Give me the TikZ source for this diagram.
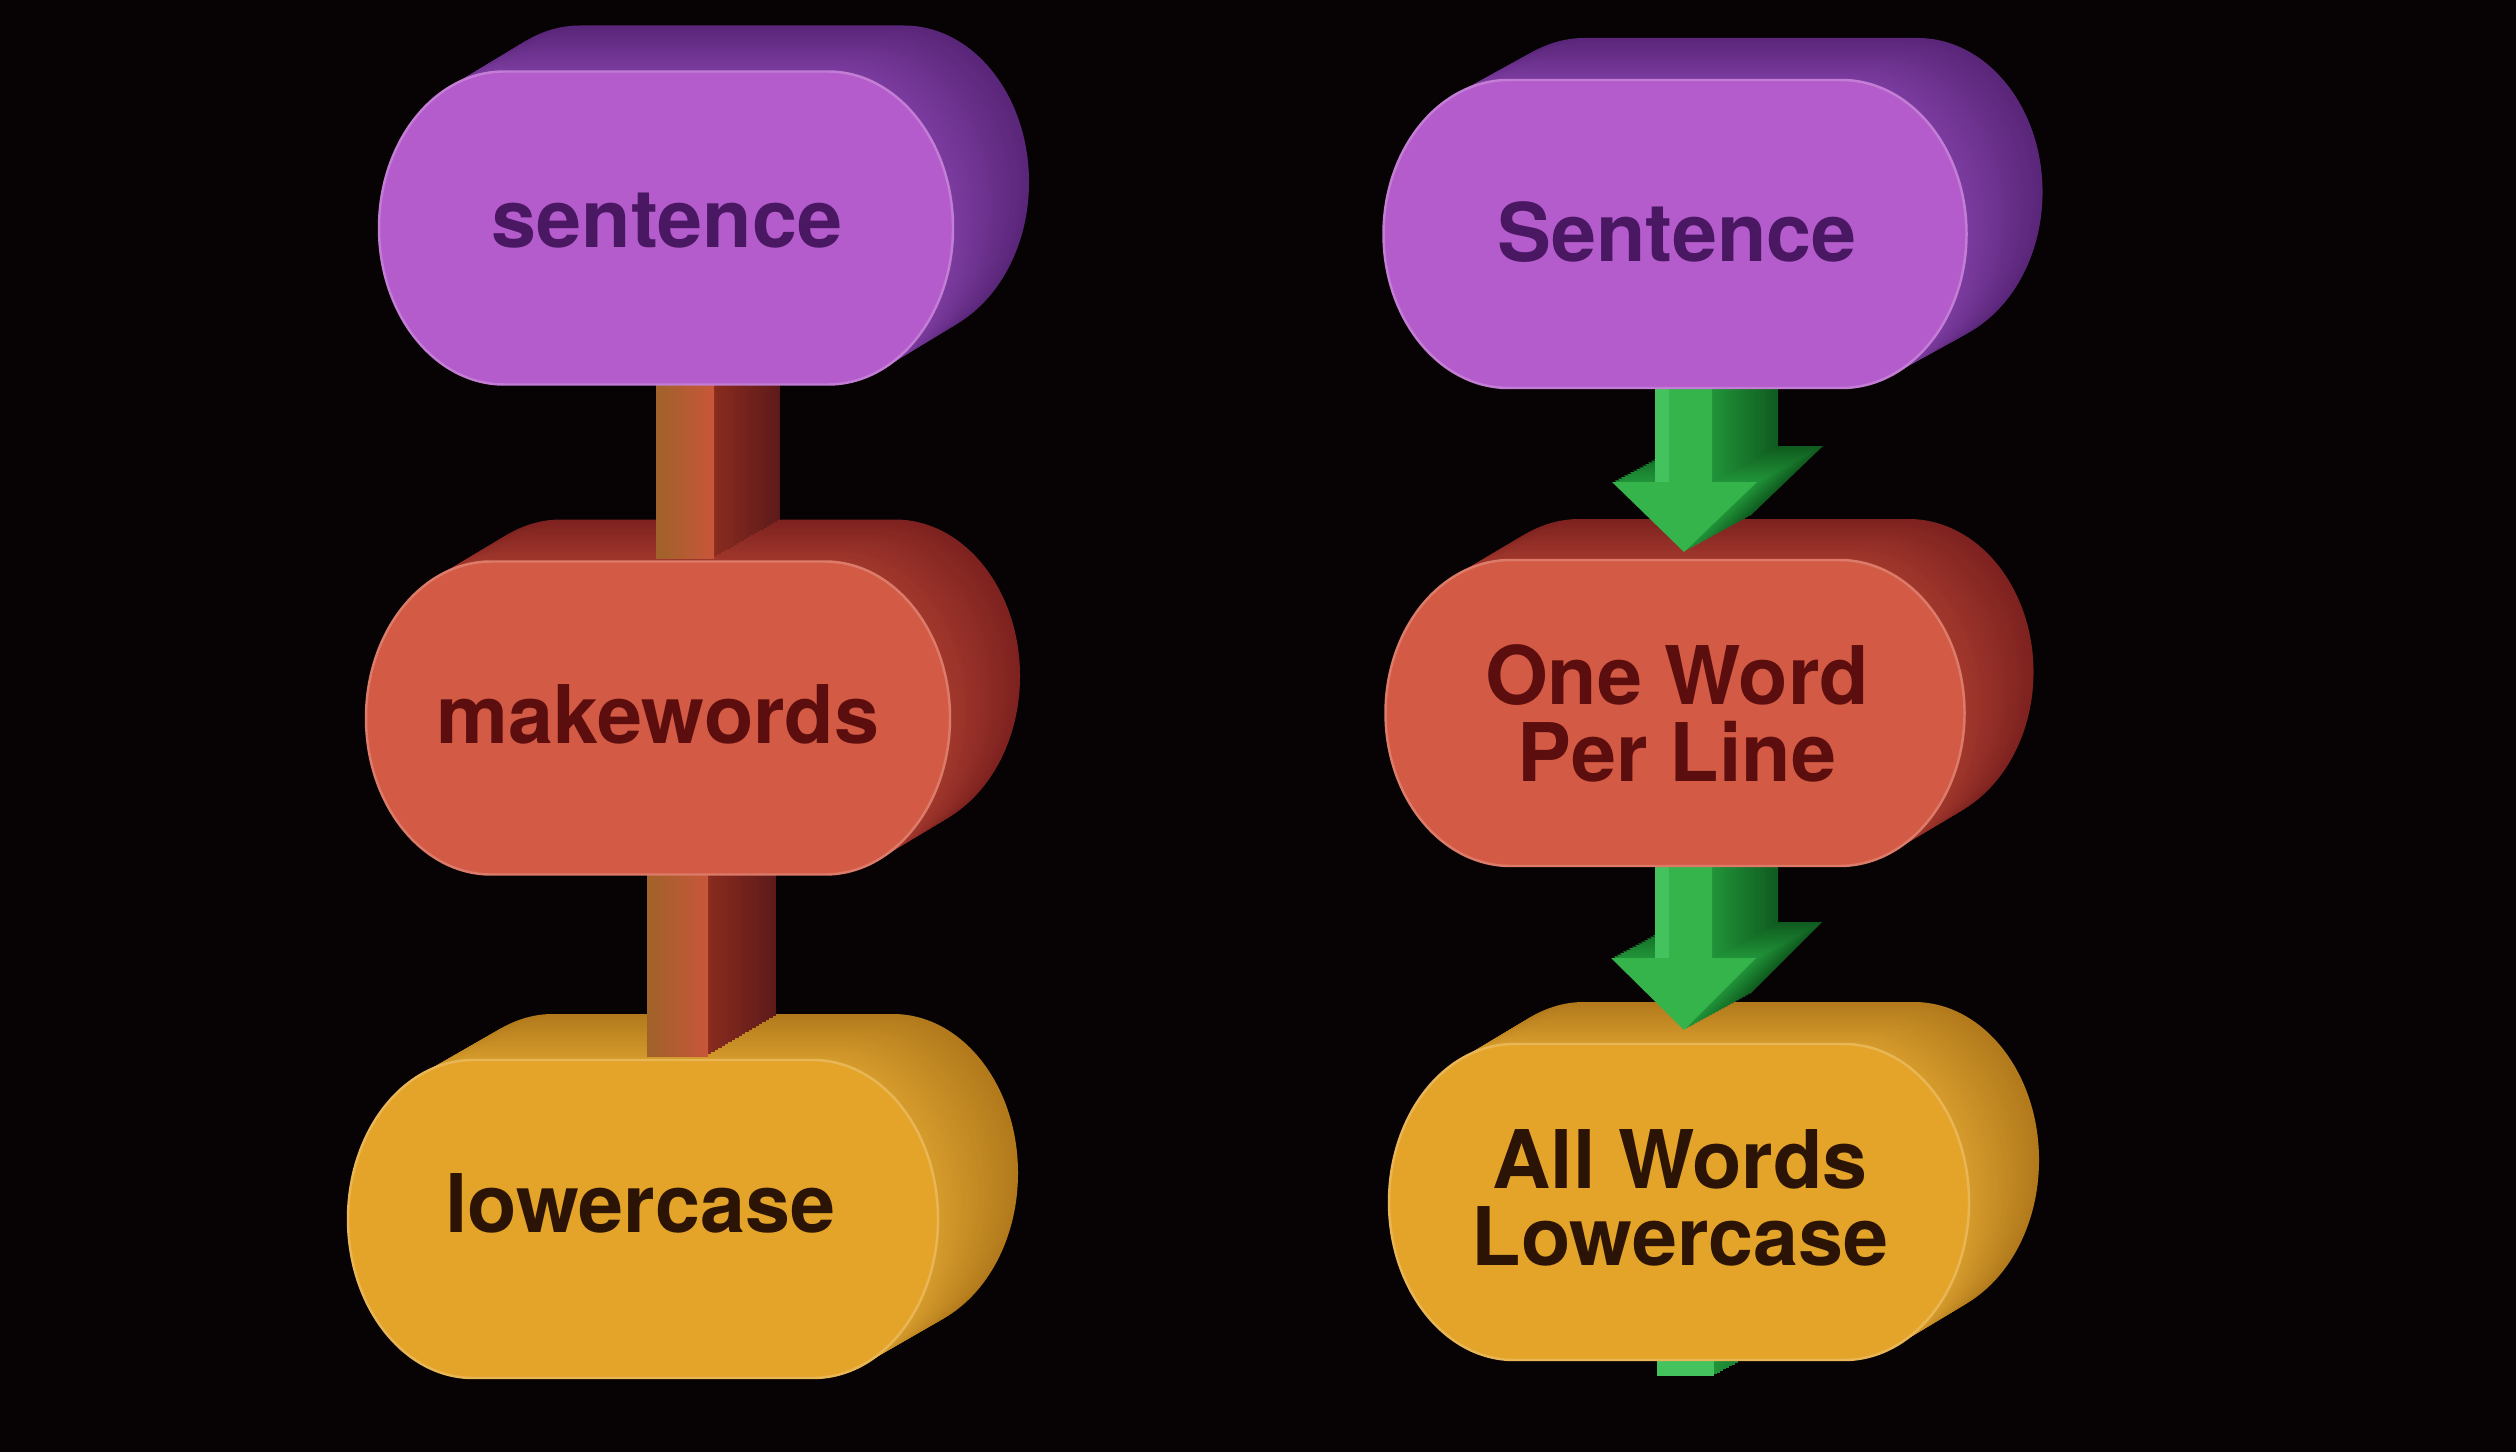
\documentclass[tikz,border=0pt]{standalone}
\usepackage{fontspec}
\setmainfont{TeX Gyre Heros}
\definecolor{bg}{HTML}{070304}
\definecolor{pfront}{HTML}{B45CCB}
\definecolor{pback}{HTML}{5A2679}
\definecolor{pside}{HTML}{7C3CA0}
\definecolor{ptext}{HTML}{4A1763}
\definecolor{rfront}{HTML}{D35A44}
\definecolor{rback}{HTML}{7E2220}
\definecolor{rside}{HTML}{A2382C}
\definecolor{rtext}{HTML}{5C0E0E}
\definecolor{yfront}{HTML}{E4A42A}
\definecolor{yback}{HTML}{B27A1C}
\definecolor{yside}{HTML}{D69C2C}
\definecolor{ytext}{HTML}{2B1405}
\definecolor{barL}{HTML}{A0622A}
\definecolor{barR}{HTML}{C8563A}
\definecolor{barback}{HTML}{5E1A1A}
\definecolor{barside}{HTML}{8B2C1E}
\definecolor{gfront}{HTML}{35B44C}
\definecolor{glight}{HTML}{44C25E}
\definecolor{gside}{HTML}{21963A}
\definecolor{gback}{HTML}{105C20}

\newcommand\prx{125}
\newcommand\pillshape[4]{(#1-#3/2+\prx,#2-#4/2) -- (#1+#3/2-\prx,#2-#4/2) arc[start angle=-90,end angle=90,x radius=\prx,y radius=#4/2] -- (#1-#3/2+\prx,#2+#4/2) arc[start angle=90,end angle=270,x radius=\prx,y radius=#4/2] -- cycle}
% cx cy w h dx dy backcolour sidecolour
\newcommand\pillback[8]{%
  \foreach \kk in {24,23,...,1}{%
    \pgfmathsetmacro\myt{\kk/24}%
    \pgfmathtruncatemacro\mypc{100-\kk*100/24}%
    \fill[#8!\mypc!#7, shift={({\myt*(#5)},{\myt*(#6)})}] \pillshape{#1}{#2}{#3}{#4};
  }}
\newcommand\pillfront[5]{%
  \fill[#5] \pillshape{#1}{#2}{#3}{#4};
  \draw[#5!80!white, line width=0.7pt] \pillshape{#1}{#2}{#3}{#4};}
% x1 y1 x2 y2 dx dy
\newcommand\barback[6]{%
  \foreach \kk in {20,19,...,1}{%
    \pgfmathsetmacro\myt{\kk/20}%
    \pgfmathtruncatemacro\mypc{100-\kk*5}%
    \fill[barside!\mypc!barback, shift={({\myt*(#5)},{\myt*(#6)})}] (#1,#2) rectangle (#3,#4);
  }}
% shaft x1 x2 top, head base y, head left x, head right x, tip x, tip y
\newcommand\arrowshape[8]{(#1,#3) -- (#1,#4) -- (#5,#4) -- (#7,#8) -- (#6,#4) -- (#2,#4) -- (#2,#3) -- cycle}
\newcommand\arrowback[8]{%
  \foreach \kk in {22,21,...,1}{%
    \pgfmathsetmacro\myt{\kk/22}%
    \pgfmathtruncatemacro\mypc{100-\kk*100/22}%
    \fill[gside!\mypc!gback, shift={({\myt*66},{\myt*(-36)})}] \arrowshape{#1}{#2}{#3}{#4}{#5}{#6}{#7}{#8};
  }%
  \fill[gfront] \arrowshape{#1}{#2}{#3}{#4}{#5}{#6}{#7}{#8};
  \fill[glight] (#1,#3) rectangle ({#1+14},#4);}

\begin{document}
\begin{tikzpicture}[x=0.01cm,y=-0.01cm,
  lbl/.style={font=\fontsize{23}{21.9}\selectfont\bfseries, inner sep=0pt, align=center}]
\fill[bg] (0,0) rectangle (2516,1452);
\useasboundingbox (0,0) rectangle (2516,1452);

% ---- extruded back layers of the pills
\pillback{666}{228}{574}{313}{76}{-46}{pback}{pside}
\pillback{658}{718}{584}{313}{70}{-42}{rback}{rside}
\pillback{643}{1219}{590}{318}{80}{-46}{yback}{yside}
\pillback{1675}{234}{583}{308}{76}{-42}{pback}{pside}
\pillback{1675}{713}{579}{306}{69}{-41}{rback}{rside}
\pillback{1679}{1202}{580}{316}{70}{-42}{yback}{yside}

% ---- left column: plain bars
\barback{656}{370}{714}{558}{66}{-38}
\shade[left color=barL, right color=barR] (656,370) rectangle (714,558);
\barback{647}{860}{708}{1056}{68}{-40}
\shade[left color=barL, right color=barR] (647,860) rectangle (708,1056);

% ---- right column: green arrows
\arrowback{1655}{1712}{370}{482}{1612}{1757}{1684}{552}
\arrowback{1655}{1712}{855}{958}{1611}{1756}{1684}{1030}
\foreach \kk in {22,21,...,1}{%
  \pgfmathsetmacro\myt{\kk/22}%
  \pgfmathtruncatemacro\mypc{100-\kk*100/22}%
  \fill[gside!\mypc!gback, shift={({\myt*66},{\myt*(-36)})}] (1657,1320) rectangle (1714,1376);
}
\fill[glight] (1657,1320) rectangle (1714,1376);

% ---- front faces
\pillfront{666}{228}{574}{313}{pfront}
\pillfront{658}{718}{584}{313}{rfront}
\pillfront{643}{1219}{590}{318}{yfront}
\pillfront{1675}{234}{583}{308}{pfront}
\pillfront{1675}{713}{579}{306}{rfront}
\pillfront{1679}{1202}{580}{316}{yfront}

% ---- labels
\node[lbl, text=ptext, anchor=base] (s1) at (667,248) {sentence};
\node[lbl, text=rtext, anchor=base] (m1) at (658,743) {makewords};
\node[lbl, text=ytext, anchor=base] (l1) at (640,1232) {lowercase};
\node[lbl, text=ptext, anchor=base] (s2) at (1677,262) {Sentence};
\node[lbl, text=rtext] (o2) at (1677,713) {One Word\\Per Line};
\node[lbl, text=ytext] (a2) at (1680,1198) {All Words\\Lowercase};
\end{tikzpicture}
\end{document}
